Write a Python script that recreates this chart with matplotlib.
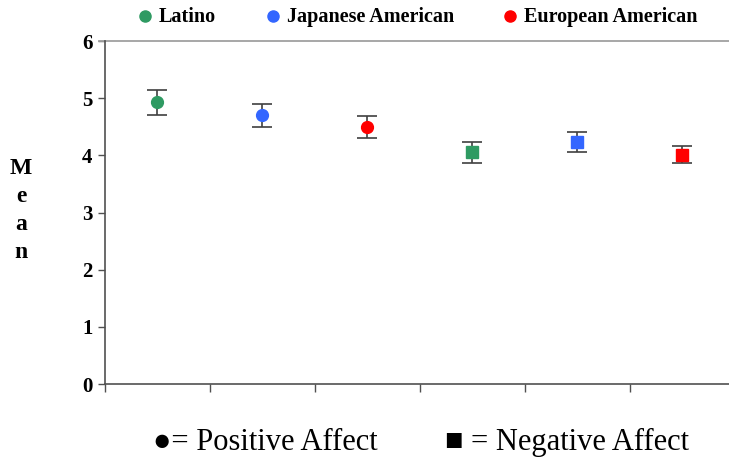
import matplotlib.pyplot as plt
from matplotlib.lines import Line2D

# Mean affect ratings by group, with error bar half-widths
groups = ["Latino", "Japanese American", "European American"]
colors = ["#2e9a62", "#3366ff", "#ff0000"]
positive_means = [4.93, 4.70, 4.50]
positive_err = [0.22, 0.20, 0.19]
negative_means = [4.05, 4.23, 4.01]
negative_err = [0.18, 0.18, 0.15]

plt.rcParams["font.family"] = ["Liberation Serif", "DejaVu Serif"]

fig = plt.figure(figsize=(7.29, 4.63), dpi=100)
ax = fig.add_axes([0.144, 0.1706, 0.864, 0.7408])

n = len(groups)
for i in range(n):
    ax.errorbar(i + 0.5, positive_means[i], yerr=positive_err[i], fmt="o",
                color=colors[i], ms=8.5, ecolor="#404040", elinewidth=1.2,
                capsize=7, capthick=1.2, zorder=3)
    ax.errorbar(n + i + 0.5, negative_means[i], yerr=negative_err[i], fmt="s",
                color=colors[i], ms=8.5, ecolor="#404040", elinewidth=1.2,
                capsize=7, capthick=1.2, zorder=3)

ax.set_xlim(0, 2 * n)
ax.set_ylim(0, 6)
ax.set_xticks(range(0, 2 * n + 1))
ax.set_xticklabels([])
ax.set_yticks(range(0, 7))
ax.tick_params(axis="y", direction="out", length=5, width=1, color="#505050",
               labelsize=15, pad=4)
ax.tick_params(axis="x", direction="out", length=6, width=1, color="#505050")
for lab in ax.get_yticklabels():
    lab.set_fontweight("bold")

for side in ["top", "right"]:
    ax.spines[side].set_visible(False)
for side in ["left", "bottom"]:
    ax.spines[side].set_color("#505050")
    ax.spines[side].set_linewidth(1.2)
ax.axhline(6, color="#a0a0a0", lw=1.3, clip_on=False, xmin=-0.01)

# stacked vertical axis label
fig.text(0.029, 0.545, "M\ne\na\nn", ha="center", va="center", fontsize=17,
         fontweight="bold", linespacing=1.45)

# group colour key along the top
key_x = [0.199, 0.3745, 0.6996]
for x, c, g in zip(key_x, colors, groups):
    fig.add_artist(Line2D([x], [0.965], marker="o", ls="", color=c, ms=8,
                          transform=fig.transFigure))
    fig.text(x + 0.019, 0.963, g, fontsize=14.5, fontweight="bold", va="center")

# marker shape key below the axes
fig.text(0.21, 0.045, "\u25cf= Positive Affect", fontsize=22, va="center")
fig.text(0.611, 0.045, "\u25a0 = Negative Affect", fontsize=22, va="center")

fig.savefig("out.png", dpi=100)
